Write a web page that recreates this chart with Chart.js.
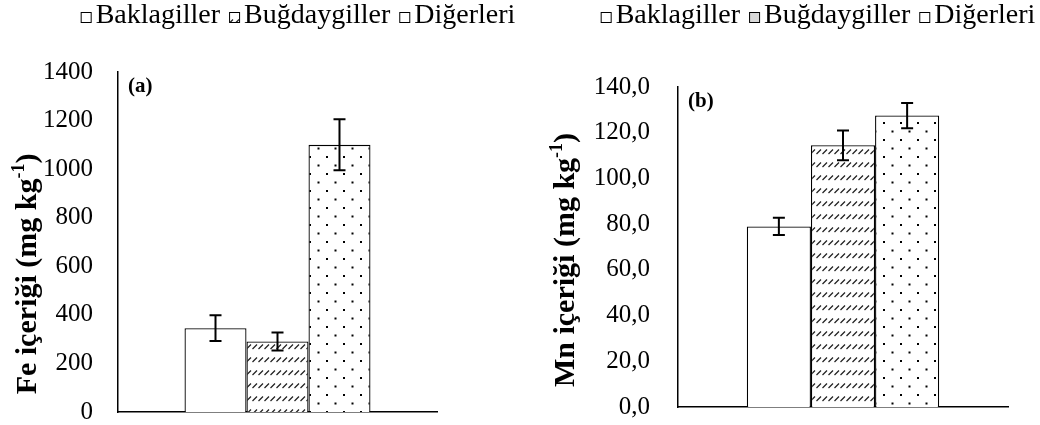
<!DOCTYPE html>
<html>
<head>
<meta charset="utf-8">
<script src="https://cdn.jsdelivr.net/npm/chart.js@4.4.1/dist/chart.umd.min.js"></script>
<style>
    body { margin: 0; background: #fff; width: 1040px; height: 425px; position: relative; overflow: hidden; }
    #feChart { position: absolute; left: 0; top: 0; }
    #mnChart { position: absolute; left: 540px; top: 0; }
</style>
</head>
<body>
<canvas id="feChart" width="596" height="425"></canvas>
<canvas id="mnChart" width="500" height="425"></canvas>
<script>
// veriler
const groups = ["Baklagiller", "Buğdaygiller", "Diğerleri"];
const feValues = [345, 290, 1100];
const feErrors = [53, 37, 105];
const mnValues = [79, 114.5, 127.5];
const mnErrors = [3.8, 6.5, 5.5];
const feTicks = [0, 1400, 200];
const mnTicks = [0, 140, 20];

const SERIF = '"Liberation Serif", "Times New Roman", serif';

// desenler
function hatchPattern() {
    const c = document.createElement("canvas");
    c.width = 6; c.height = 13;
    const g = c.getContext("2d");
    g.fillStyle = "#fff";
    g.fillRect(0, 0, 6, 13);
    g.strokeStyle = "#222";
    g.lineWidth = 1.3;
    g.beginPath();
    g.moveTo(0.5, 11);
    g.lineTo(5, 6.5);
    g.stroke();
    return g.createPattern(c, "repeat");
}

function dotPattern() {
    const c = document.createElement("canvas");
    c.width = 17; c.height = 17;
    const g = c.getContext("2d");
    g.fillStyle = "#fff";
    g.fillRect(0, 0, 17, 17);
    g.fillStyle = "#000";
    g.fillRect(3, 3, 2, 2);
    g.fillRect(11.5, 11.5, 2, 2);
    return g.createPattern(c, "repeat");
}

// hata çubukları
const errorBars = {
    id: "errorBars",
    afterDatasetsDraw(chart) {
        const ctx = chart.ctx;
        const y = chart.scales.y;
        ctx.save();
        ctx.strokeStyle = "#000";
        ctx.lineWidth = 2;
        chart.data.datasets.forEach((ds, i) => {
            chart.getDatasetMeta(i).data.forEach((bar, j) => {
                const v = ds.data[j], e = ds.errors[j];
                const top = y.getPixelForValue(v + e);
                const bot = y.getPixelForValue(v - e);
                ctx.beginPath();
                ctx.moveTo(bar.x, top); ctx.lineTo(bar.x, bot);
                ctx.moveTo(bar.x - 6, top); ctx.lineTo(bar.x + 6, top);
                ctx.moveTo(bar.x - 6, bot); ctx.lineTo(bar.x + 6, bot);
                ctx.stroke();
            });
        });
        ctx.restore();
    }
};

// lejant (kutu + metin), üstte ortalı
function legendBar(cx, cy, swatches) {
    return {
        id: "legendBar",
        afterDraw(chart) {
            const ctx = chart.ctx;
            ctx.save();
            ctx.font = "28px " + SERIF;
            ctx.textBaseline = "middle";
            const items = chart.data.datasets.map(ds => ds.label);
            const widths = items.map(t => 15 + ctx.measureText(t).width);
            const total = widths.reduce((a, b) => a + b, 0) + 9 * (items.length - 1);
            let x = cx - total / 2;
            items.forEach((t, i) => {
                ctx.fillStyle = swatches[i];
                ctx.fillRect(x, cy - 4, 10, 10);
                ctx.strokeStyle = "#000";
                ctx.lineWidth = 1;
                ctx.strokeRect(x + 0.5, cy - 3.5, 10, 10);
                ctx.fillStyle = "#000";
                ctx.fillText(t, x + 15, cy);
                x += widths[i] + 9;
            });
            ctx.restore();
        }
    };
}

// eksen başlığı ve (a)/(b) etiketi
function panelText(tag, titleMain, titleX, titleY) {
    return {
        id: "panelText",
        afterDraw(chart) {
            const ctx = chart.ctx;
            const area = chart.chartArea;
            ctx.save();
            ctx.fillStyle = "#000";
            ctx.font = "bold 21px " + SERIF;
            ctx.textBaseline = "middle";
            ctx.fillText(tag, area.left + 10, area.top + 15);

            ctx.translate(titleX, titleY);
            ctx.rotate(-Math.PI / 2);
            ctx.textBaseline = "alphabetic";
            const big = "bold 30px " + SERIF, small = "bold 18px " + SERIF;
            ctx.font = big;
            const w1 = ctx.measureText(titleMain).width;
            const w3 = ctx.measureText(")").width;
            ctx.font = small;
            const w2 = ctx.measureText("-1").width;
            let x = -(w1 + w2 + w3) / 2;
            ctx.font = big;
            ctx.fillText(titleMain, x, 0);
            x += w1;
            ctx.font = small;
            ctx.fillText("-1", x, -12);
            x += w2;
            ctx.font = big;
            ctx.fillText(")", x, 0);
            ctx.restore();
        }
    };
}

function buildChart(id, values, errors, ticks, cfg) {
    const fills = ["#ffffff", hatchPattern(), dotPattern()];
    const swatches = cfg.swatches.map(s => s === "hatch" ? fills[1] : s);
    return new Chart(document.getElementById(id), {
        type: "bar",
        data: {
            labels: [""],
            datasets: groups.map((g, i) => ({
                label: g,
                data: [values[i]],
                errors: [errors[i]],
                backgroundColor: fills[i],
                borderColor: "#000",
                borderWidth: 1.3,
                barPercentage: 1,
                categoryPercentage: 0.583
            }))
        },
        options: {
            responsive: false,
            animation: false,
            layout: { padding: { left: 0, right: 0, top: cfg.topPad, bottom: cfg.bottomPad } },
            scales: {
                x: {
                    grid: { display: false, drawTicks: false },
                    border: { color: "#000", width: 1.5 },
                    ticks: { display: false },
                    afterFit(s) { s.height = 0; }
                },
                y: {
                    min: ticks[0],
                    max: ticks[1],
                    ticks: {
                        stepSize: ticks[2],
                        padding: 0,
                        color: "#000",
                        font: { family: SERIF, size: 25, lineHeight: 1 },
                        callback: cfg.fmt
                    },
                    // boşluk tick uzunluğu ile (görünmez)
                    grid: { display: false, drawTicks: true, tickLength: cfg.tickPad },
                    border: { color: "#000", width: 1.5 },
                    afterFit(s) { s.width = cfg.axisLeft; }
                },
                y2: {
                    position: "right",
                    grid: { display: false, drawTicks: false },
                    ticks: { display: false },
                    border: { display: false },
                    afterFit(s) { s.width = cfg.rightGap; }
                }
            },
            plugins: {
                legend: { display: false },
                tooltip: { enabled: false }
            }
        },
        plugins: [
            errorBars,
            legendBar(cfg.legendX, 16, swatches),
            panelText(cfg.tag, cfg.title, cfg.titleX, cfg.titleY)
        ]
    });
}

buildChart("feChart", feValues, feErrors, feTicks, {
    tag: "(a)",
    title: "Fe içeriği (mg kg",
    titleX: 36, titleY: 274,
    axisLeft: 118, rightGap: 159, tickPad: 25,
    topPad: 72, bottomPad: 13,
    legendX: 298,
    swatches: ["#ffffff", "hatch", "#ffffff"],
    fmt: v => String(v)
});

buildChart("mnChart", mnValues, mnErrors, mnTicks, {
    tag: "(b)",
    title: "Mn içeriği (mg kg",
    titleX: 34, titleY: 260,
    axisLeft: 138, rightGap: 32, tickPad: 28,
    topPad: 87, bottomPad: 18,
    legendX: 278,
    swatches: ["#ffffff", "#d9d9d9", "#ffffff"],
    fmt: v => v.toFixed(1).replace(".", ",")
});
</script>
</body>
</html>
